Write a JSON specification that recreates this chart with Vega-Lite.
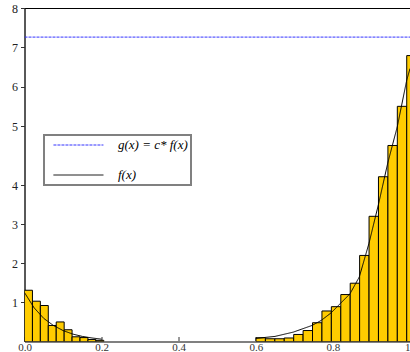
{
  "$schema": "https://vega.github.io/schema/vega-lite/v6.json",
  "width": 385.5,
  "height": 333.5,
  "autosize": {"type": "none"},
  "padding": {"left": 24.5, "top": 8, "right": 0, "bottom": 10.5},
  "background": "white",
  "config": {
    "font": "Liberation Serif",
    "view": {"stroke": "black", "strokeWidth": 1},
    "legend": {
      "orient": "none",
      "legendX": 19.5,
      "legendY": 127,
      "title": null,
      "symbolType": "M-0.09,0H7.91",
      "symbolSize": 156.25,
      "symbolStrokeWidth": 1,
      "labelOffset": 57,
      "padding": 3,
      "rowPadding": 16,
      "strokeColor": "#808080",
      "strokeWidth": 2,
      "fillColor": "white",
      "labelFont": "Liberation Serif",
      "labelFontStyle": "italic",
      "labelFontSize": 13,
      "labelColor": "black",
      "labelLimit": 200
    }
  },
  "datasets": {
    "bars": [
      {"x0": 0.0, "x1": 0.0206, "v": 1.31},
      {"x0": 0.0206, "x1": 0.0411, "v": 1.03},
      {"x0": 0.0411, "x1": 0.0617, "v": 0.92},
      {"x0": 0.0617, "x1": 0.0823, "v": 0.41},
      {"x0": 0.0823, "x1": 0.1029, "v": 0.5},
      {"x0": 0.1029, "x1": 0.1234, "v": 0.3},
      {"x0": 0.1234, "x1": 0.144, "v": 0.12},
      {"x0": 0.144, "x1": 0.1646, "v": 0.1},
      {"x0": 0.1646, "x1": 0.1851, "v": 0.05},
      {"x0": 0.1851, "x1": 0.2057, "v": 0.03},
      {"x0": 0.6005, "x1": 0.6249, "v": 0.095},
      {"x0": 0.6249, "x1": 0.6494, "v": 0.07},
      {"x0": 0.6494, "x1": 0.6738, "v": 0.07},
      {"x0": 0.6738, "x1": 0.6983, "v": 0.09},
      {"x0": 0.6983, "x1": 0.7227, "v": 0.18},
      {"x0": 0.7227, "x1": 0.7471, "v": 0.28},
      {"x0": 0.7471, "x1": 0.7716, "v": 0.48},
      {"x0": 0.7716, "x1": 0.796, "v": 0.78},
      {"x0": 0.796, "x1": 0.8205, "v": 0.89},
      {"x0": 0.8205, "x1": 0.8449, "v": 1.2},
      {"x0": 0.8449, "x1": 0.8693, "v": 1.49},
      {"x0": 0.8693, "x1": 0.8938, "v": 2.2},
      {"x0": 0.8938, "x1": 0.9182, "v": 3.2},
      {"x0": 0.9182, "x1": 0.9427, "v": 4.14},
      {"x0": 0.9427, "x1": 0.9671, "v": 4.67},
      {"x0": 0.9671, "x1": 0.9915, "v": 5.5},
      {"x0": 0.9915, "x1": 1.016, "v": 6.79}
    ],
    "curves": [
      {"series": "g(x) = c* f(x)", "seg": "g", "x": 0, "v": 7.26},
      {"series": "g(x) = c* f(x)", "seg": "g", "x": 1, "v": 7.26},
      {"series": "f(x)", "seg": "a", "x": 0, "v": 1.25},
      {"series": "f(x)", "seg": "a", "x": 0.025, "v": 0.86},
      {"series": "f(x)", "seg": "a", "x": 0.05, "v": 0.59},
      {"series": "f(x)", "seg": "a", "x": 0.075, "v": 0.41},
      {"series": "f(x)", "seg": "a", "x": 0.1, "v": 0.28},
      {"series": "f(x)", "seg": "a", "x": 0.125, "v": 0.19},
      {"series": "f(x)", "seg": "a", "x": 0.15, "v": 0.13},
      {"series": "f(x)", "seg": "a", "x": 0.175, "v": 0.09},
      {"series": "f(x)", "seg": "a", "x": 0.2, "v": 0.06},
      {"series": "f(x)", "seg": "b", "x": 0.6005, "v": 0.08},
      {"series": "f(x)", "seg": "b", "x": 0.6498, "v": 0.13},
      {"series": "f(x)", "seg": "b", "x": 0.6973, "v": 0.24},
      {"series": "f(x)", "seg": "b", "x": 0.7458, "v": 0.41},
      {"series": "f(x)", "seg": "b", "x": 0.7699, "v": 0.54},
      {"series": "f(x)", "seg": "b", "x": 0.7951, "v": 0.73},
      {"series": "f(x)", "seg": "b", "x": 0.8202, "v": 0.98},
      {"series": "f(x)", "seg": "b", "x": 0.8444, "v": 1.22},
      {"series": "f(x)", "seg": "b", "x": 0.8685, "v": 1.65},
      {"series": "f(x)", "seg": "b", "x": 0.8936, "v": 2.51},
      {"series": "f(x)", "seg": "b", "x": 0.9188, "v": 3.53},
      {"series": "f(x)", "seg": "b", "x": 0.9422, "v": 4.37},
      {"series": "f(x)", "seg": "b", "x": 0.9671, "v": 4.99},
      {"series": "f(x)", "seg": "b", "x": 0.9914, "v": 6.16},
      {"series": "f(x)", "seg": "b", "x": 1.0, "v": 6.46}
    ]
  },
  "layer": [
    {
      "data": {"name": "bars"},
      "mark": {"type": "rect", "fill": "#FFCC00", "stroke": "black", "strokeWidth": 1, "clip": true},
      "encoding": {
        "x": {
          "field": "x0", "type": "quantitative",
          "scale": {"domain": [0, 1], "nice": false, "zero": false},
          "axis": {
            "values": [0, 0.2, 0.4, 0.6, 0.8, 1],
            "labelExpr": "datum.value == 1 ? '1' : format(datum.value, '.1f')",
            "labelFlush": false,
            "labelAlign": {"condition": {"test": "datum.value == 1", "value": "right"}, "value": "center"},
            "title": null,
            "grid": false,
            "domainColor": "#808080",
            "domainWidth": 2,
            "tickColor": "#333333",
            "tickSize": -5,
            "labelPadding": 5,
            "labelFont": "Liberation Serif",
            "labelFontSize": 11,
            "labelColor": "#333333"
          }
        },
        "x2": {"field": "x1"},
        "y": {
          "field": "v", "type": "quantitative",
          "scale": {"domain": [0, 4, 5, 8], "range": [333.5, 177, 118, 0], "nice": false, "zero": false},
          "axis": {
            "values": [1, 2, 3, 4, 5, 6, 7, 8],
            "title": null,
            "grid": false,
            "labelFlush": false,
            "domainColor": "#333333",
            "tickColor": "#333333",
            "tickSize": 4,
            "labelPadding": 3,
            "labelFont": "Liberation Serif",
            "labelFontSize": 12,
            "labelColor": "#222222"
          }
        },
        "y2": {"datum": 0}
      }
    },
    {
      "data": {"name": "curves"},
      "mark": {"type": "line", "strokeWidth": 1, "clip": true},
      "encoding": {
        "x": {"field": "x", "type": "quantitative"},
        "y": {"field": "v", "type": "quantitative"},
        "detail": {"field": "seg"},
        "color": {
          "field": "series", "type": "nominal",
          "scale": {"domain": ["g(x) = c* f(x)", "f(x)"], "range": ["#3333ff", "black"]}
        },
        "strokeDash": {
          "field": "series", "type": "nominal",
          "scale": {"domain": ["g(x) = c* f(x)", "f(x)"], "range": [[3, 1], [1, 0]]}
        }
      }
    }
  ]
}
